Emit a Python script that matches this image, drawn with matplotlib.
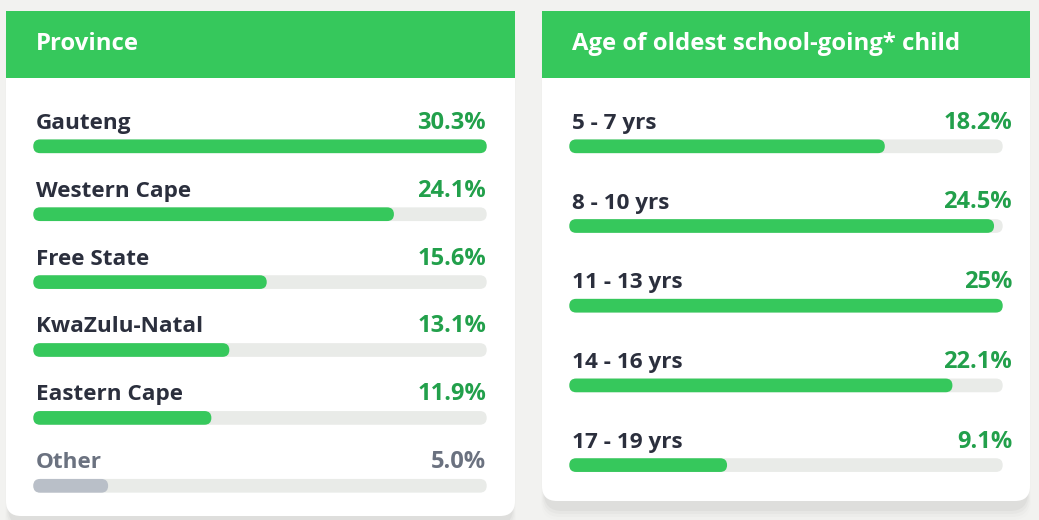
import matplotlib.pyplot as plt
from matplotlib.patches import FancyBboxPatch, Rectangle

# data
provinces = ['Gauteng', 'Western Cape', 'Free State', 'KwaZulu-Natal', 'Eastern Cape', 'Other']
province_pct = [30.3, 24.1, 15.6, 13.1, 11.9, 5.0]
province_text = ['30.3%', '24.1%', '15.6%', '13.1%', '11.9%', '5.0%']

ages = ['5 - 7 yrs', '8 - 10 yrs', '11 - 13 yrs', '14 - 16 yrs', '17 - 19 yrs']
age_pct = [18.2, 24.5, 25.0, 22.1, 9.1]
age_text = ['18.2%', '24.5%', '25%', '22.1%', '9.1%']

W, H = 1039, 520
BG = '#f2f2f0'
GREEN = '#36c85c'
GREEN_TXT = '#22a04b'
DARK = '#2b2f3d'
GREY_TXT = '#6b7280'
GREY_BAR = '#b9bfc8'
TRACK = '#e9ebe8'
FONT = 'Open Sans'
FS = 16.2
FS_PCT = 17
FS_HEAD = 17.2

fig = plt.figure(figsize=(W / 100, H / 100), dpi=100, facecolor=BG)

# background layer in pixel units for the cards
bg = fig.add_axes([0, 0, 1, 1])
bg.set_xlim(0, W)
bg.set_ylim(H, 0)
bg.axis('off')


def card(x0, x1, y0, y1, title):
    # soft shadow mostly under the card
    for k, a in enumerate([0.03, 0.022, 0.015, 0.008]):
        s = FancyBboxPatch((x0 + 2 - k, y0 + 8 + k), x1 - x0 - 4 + 2 * k, y1 - y0 + 2 + 2 * k,
                           boxstyle='round,pad=0,rounding_size=18',
                           fc='black', ec='none', alpha=a, zorder=1)
        bg.add_patch(s)
    body = FancyBboxPatch((x0, y0), x1 - x0, y1 - y0,
                          boxstyle='round,pad=0,rounding_size=15',
                          fc='white', ec='none', zorder=2)
    bg.add_patch(body)
    bg.add_patch(Rectangle((x0, y0), x1 - x0, 67, fc=GREEN, ec='none', zorder=3))
    bg.text(x0 + 30, y0 + 33, title, color='white', fontsize=FS_HEAD, fontweight='bold',
            family=FONT, va='center', ha='left', zorder=4)


card(6, 515, 11, 516, 'Province')
card(542, 1030, 11, 501, 'Age of oldest school-going* child')

BAR_PX = 13.7  # bar thickness in px


def round_bars(ax, bars, px_x, px_y):
    # swap the plain rectangles for pill-shaped ones of the same size
    r = BAR_PX / 2
    for b in bars:
        x, y = b.get_x(), b.get_y()
        w, h = b.get_width(), b.get_height()
        p = FancyBboxPatch((x, y), w, h,
                           boxstyle=f'round,pad=0,rounding_size={min(r / px_x, w / 2)}',
                           mutation_aspect=px_x / px_y,
                           fc=b.get_facecolor(), ec='none', zorder=b.get_zorder())
        b.remove()
        ax.add_patch(p)


def panel(track_x0, track_x1, y_first, step, names, vals, texts, txt_right, grey_last=False):
    n = len(names)
    y_last = y_first + step * (n - 1)
    ax = fig.add_axes([track_x0 / W, 1 - (y_last + step / 2) / H,
                       (track_x1 - track_x0) / W, (n * step) / H])
    vmax = max(vals)
    ax.set_xlim(0, vmax)
    ax.set_ylim(n - 0.5, -0.5)
    ax.axis('off')
    px_x = (track_x1 - track_x0) / vmax
    px_y = step
    ys = list(range(n))
    hgt = BAR_PX / step
    cols = [GREEN] * n
    if grey_last:
        cols[-1] = GREY_BAR
    track = ax.barh(ys, [vmax] * n, height=hgt, color=TRACK, zorder=1)
    fill = ax.barh(ys, vals, height=hgt, color=cols, zorder=2)
    round_bars(ax, track, px_x, px_y)
    round_bars(ax, fill, px_x, px_y)
    dx_right = (txt_right - track_x1) * 0.72
    for i in ys:
        c_lab = GREY_TXT if (grey_last and i == n - 1) else DARK
        c_val = GREY_TXT if (grey_last and i == n - 1) else GREEN_TXT
        ax.annotate(names[i], (0, i), xytext=(2.5 * 0.72, 17.5 * 0.72), textcoords='offset points',
                    ha='left', va='baseline', fontsize=FS, fontweight='bold', family=FONT,
                    color=c_lab, annotation_clip=False)
        ax.annotate(texts[i], (vmax, i), xytext=(dx_right, 17.5 * 0.72), textcoords='offset points',
                    ha='right', va='baseline', fontsize=FS_PCT, fontweight='bold', family=FONT,
                    color=c_val, annotation_clip=False)


panel(33.3, 486.7, 146.3, 67.9, provinces, province_pct, province_text, 486, grey_last=True)
panel(569.3, 1002.7, 146.3, 79.7, ages, age_pct, age_text, 1012)

fig.savefig('out.png', dpi=100, facecolor=BG)
